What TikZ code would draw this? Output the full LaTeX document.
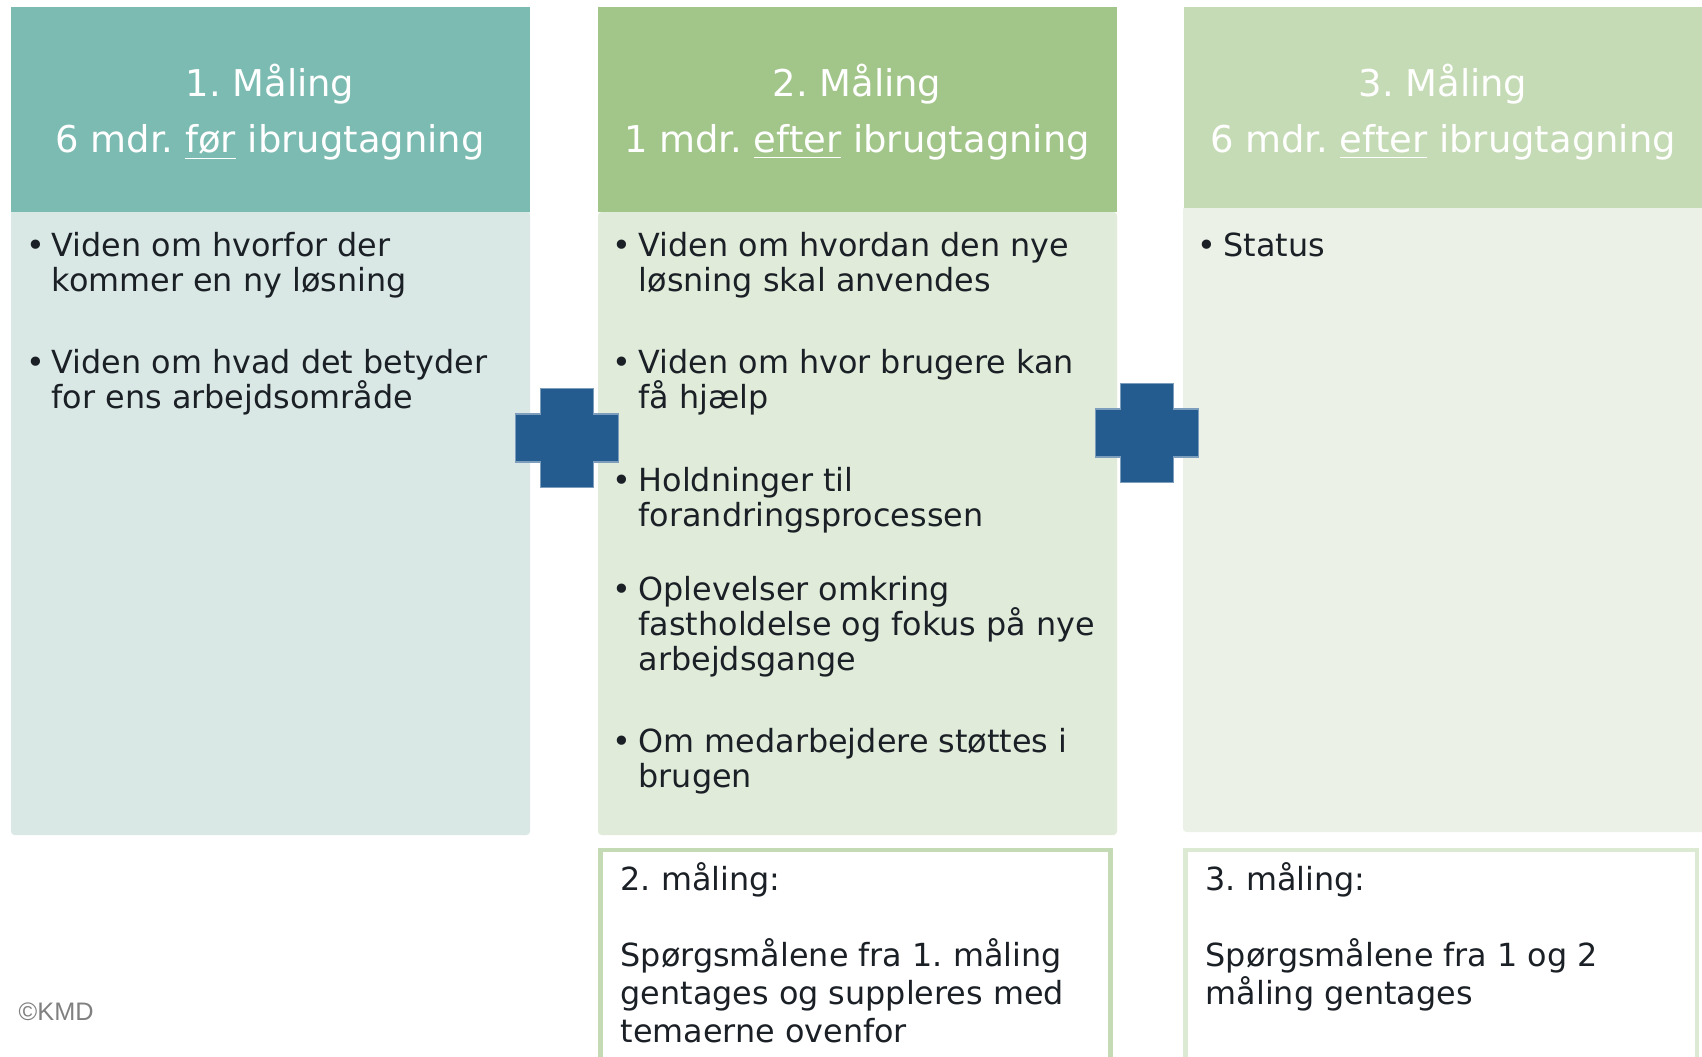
\documentclass[tikz,border=0pt]{standalone}
\usepackage{fontspec}
\setmainfont{DejaVu Sans}
\newfontfamily\kmdfont{Liberation Sans}
\usepackage{tikz}
\frenchspacing
\definecolor{head_teal}{HTML}{7BBBB1}
\definecolor{body_teal}{HTML}{D9E8E5}
\definecolor{head_green}{HTML}{A2C58A}
\definecolor{body_green}{HTML}{E0EBDA}
\definecolor{head_pale}{HTML}{C5DBB5}
\definecolor{body_pale}{HTML}{EBF1E7}
\definecolor{plus_blue}{HTML}{245C8F}
\definecolor{frame_green}{HTML}{C4DAB4}
\definecolor{frame_pale}{HTML}{DCE9D3}
\definecolor{text_dark}{HTML}{1B2026}

\begin{document}
\begin{tikzpicture}[x=0.01cm, y=-0.01cm,
    head/.style={anchor=base, inner sep=0pt, text=white, font=\fontsize{10.5}{16}\selectfont},
    item/.style={anchor=base west, align=left, inner sep=0pt, text=text_dark, font=\fontsize{9.05}{9.9}\selectfont},
    dot/.style={anchor=base, inner sep=0pt, text=text_dark, font=\fontsize{9.05}{9.9}\selectfont},
    note/.style={anchor=base west, align=left, inner sep=0pt, text=text_dark, font=\fontsize{9.05}{10.75}\selectfont}]
    \useasboundingbox (0,0) rectangle (1702,1056);
    \clip (0,0) rectangle (1702,1056);
    % columns
    \fill[body_teal, rounded corners=1pt] (11,210) rectangle (530,835);
    \fill[head_teal] (11,7) rectangle (530,212);
    \fill[body_green, rounded corners=1pt] (598,212) rectangle (1117,835);
    \fill[head_green] (598,7) rectangle (1117,212);
    \fill[body_pale, rounded corners=1pt] (1183,206) rectangle (1710,832);
    \fill[head_pale] (1184,7) rectangle (1710,208);
    % headers
    \node[head] (h1a) at (270,96) {1. Måling};
    \node[head] (h1b) at (270,152) {6 mdr. \underline{før} ibrugtagning};
    \node[head] (h2a) at (857,96) {2. Måling};
    \node[head] (h2b) at (857,152) {1 mdr. \underline{efter} ibrugtagning};
    \node[head] (h3a) at (1443,96) {3. Måling};
    \node[head] (h3b) at (1443,152) {6 mdr. \underline{efter} ibrugtagning};
    % bullets (first line)
    \foreach \bx/\by in {36/256, 36/373, 622/256, 622/373, 622/491, 622/600, 622/752, 1207/256}
        \node[dot] at (\bx,\by) {•};
    % items (anchored at last line)
    \node[item] (a1) at (51,291) {Viden om hvorfor der\\kommer en ny løsning};
    \node[item] (a2) at (51,408) {Viden om hvad det betyder\\for ens arbejdsområde};
    \node[item] (b1) at (638,291) {Viden om hvordan den nye\\løsning skal anvendes};
    \node[item] (b2) at (638,408) {Viden om hvor brugere kan\\få hjælp};
    \node[item] (b3) at (638,526) {Holdninger til\\forandringsprocessen};
    \node[item] (b4) at (638,670) {Oplevelser omkring\\fastholdelse og fokus på nye\\arbejdsgange};
    \node[item] (b5) at (638,787) {Om medarbejdere støttes i\\brugen};
    \node[item] (c1) at (1223,256) {Status};
    % plus signs
    \foreach \cx/\cy in {567/438, 1147/433}
        \draw[plus_blue!60!white, line width=0.3pt, fill=plus_blue]
            ({\cx-26.5},{\cy-49.5}) -- ({\cx+26.5},{\cy-49.5}) -- ({\cx+26.5},{\cy-24}) -- ({\cx+51.5},{\cy-24})
            -- ({\cx+51.5},{\cy+24}) -- ({\cx+26.5},{\cy+24}) -- ({\cx+26.5},{\cy+49.5}) -- ({\cx-26.5},{\cy+49.5})
            -- ({\cx-26.5},{\cy+24}) -- ({\cx-51.5},{\cy+24}) -- ({\cx-51.5},{\cy-24}) -- ({\cx-26.5},{\cy-24}) -- cycle;
    % notes below
    \draw[frame_green, line width=1.3pt, fill=white] (600.3,850) rectangle (1110.3,1090);
    \draw[frame_pale, line width=1.3pt, fill=white] (1185.3,850) rectangle (1696.8,1090);
    \node[note] (n2) at (620,1042) {2. måling:\\[10.75pt]Spørgsmålene fra 1. måling\\gentages og suppleres med\\temaerne ovenfor};
    \node[note] (n3) at (1205,1004) {3. måling:\\[10.75pt]Spørgsmålene fra 1 og 2\\måling gentages};
    \node[anchor=base west, inner sep=0pt, text=black!50, font=\kmdfont\fontsize{7.2}{8}\selectfont] (kmd) at (18,1020) {©KMD};
\end{tikzpicture}
\end{document}
